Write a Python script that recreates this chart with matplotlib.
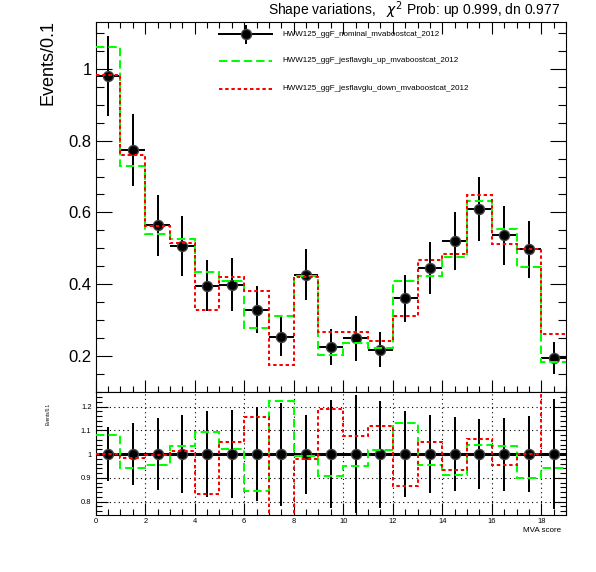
import matplotlib
matplotlib.use("Agg")
import matplotlib.pyplot as plt
from matplotlib.ticker import MultipleLocator
import numpy as np

plt.rcParams['font.family'] = ['Liberation Sans', 'DejaVu Sans']

edges = np.arange(0, 20, 1)
centers = edges[:-1] + 0.5

nominal = [0.980, 0.774, 0.564, 0.507, 0.396, 0.399, 0.329, 0.254, 0.427, 0.225,
           0.249, 0.217, 0.361, 0.445, 0.520, 0.609, 0.536, 0.497, 0.195]
errors = [0.112, 0.100, 0.085, 0.083, 0.072, 0.074, 0.065, 0.055, 0.071, 0.051,
          0.062, 0.049, 0.065, 0.073, 0.081, 0.089, 0.082, 0.080, 0.045]
up = [1.060, 0.730, 0.539, 0.525, 0.433, 0.408, 0.278, 0.311, 0.424, 0.204,
      0.237, 0.221, 0.408, 0.424, 0.475, 0.632, 0.555, 0.447, 0.184]
down = [0.982, 0.760, 0.562, 0.514, 0.329, 0.419, 0.380, 0.176, 0.419, 0.268,
        0.268, 0.243, 0.312, 0.467, 0.485, 0.649, 0.511, 0.497, 0.261]

label_nom = "HWW125_ggF_nominal_mvaboostcat_2012"
label_up = "HWW125_ggF_jesflavglu_up_mvaboostcat_2012"
label_dn = "HWW125_ggF_jesflavglu_down_mvaboostcat_2012"
title = r"Shape variations,   $\chi^{2}$ Prob: up 0.999, dn 0.977"

nom = np.array(nominal)
err = np.array(errors)
r_up = np.array(up) / nom
r_dn = np.array(down) / nom
r_err = err / nom

W, H = 596, 572
fig = plt.figure(figsize=(W / 100, H / 100), dpi=100)
ax = fig.add_axes([0.1606, 0.3152, 0.7891, 0.6472])
rax = fig.add_axes([0.1606, 0.0997, 0.7891, 0.2155])

green = '#00ff00'
red = '#ff0000'
lw = 1.44
gdash = (0, (4.2, 2.0))
rdot = (0, (1.7, 1.4))

# main panel
ax.errorbar(centers, nom, yerr=err, xerr=0.5, fmt='o', color='black',
            ms=7.2, mec='0.25', elinewidth=lw, capsize=0, zorder=3)
ax.stairs(up, edges, baseline=None, color=green, lw=lw, linestyle=gdash, zorder=4)
ax.stairs(down, edges, baseline=None, color=red, lw=lw, linestyle=rdot, zorder=5)

ax.set_xlim(0, 19)
ax.set_ylim(0.1005, 1.132)
ax.yaxis.set_major_locator(MultipleLocator(0.2))
ax.yaxis.set_minor_locator(MultipleLocator(0.05))
ax.xaxis.set_major_locator(MultipleLocator(2))
ax.xaxis.set_minor_locator(MultipleLocator(0.5))
ax.yaxis.set_major_formatter(plt.FuncFormatter(lambda v, p: f"{v:g}"))
ax.tick_params(axis='y', which='major', direction='in', length=11.5, width=0.8,
               labelsize=12, pad=3, left=True, right=True)
ax.tick_params(axis='y', which='minor', direction='in', length=5.8, width=0.8,
               left=True, right=True)
ax.tick_params(axis='x', which='major', direction='in', length=8.6, width=0.8,
               top=True, bottom=True, labelbottom=False)
ax.tick_params(axis='x', which='minor', direction='in', length=4.3, width=0.8,
               top=True, bottom=True)

# legend, drawn by hand in figure pixels (ROOT style)
def fx(px):
    return px / W

def fy(py):
    return 1 - py / H

leg_rows = [34, 60.7, 89]
leg_x0, leg_x1, leg_xm, leg_tx = 219, 272, 245.5, 282.7
styles = [dict(color='black', lw=lw),
          dict(color=green, lw=lw, linestyle=gdash),
          dict(color=red, lw=lw, linestyle=rdot)]
for row, st, lab in zip(leg_rows, styles, [label_nom, label_up, label_dn]):
    fig.add_artist(plt.Line2D([fx(leg_x0), fx(leg_x1)], [fy(row), fy(row)], **st))
    fig.text(fx(leg_tx), fy(row), lab, ha='left', va='center', fontsize=5.76)
fig.add_artist(plt.Line2D([fx(leg_xm), fx(leg_xm)], [fy(leg_rows[0] - 8.5), fy(leg_rows[0] + 8.5)],
                          color='black', lw=lw))
fig.add_artist(plt.Line2D([fx(leg_xm)], [fy(leg_rows[0])], marker='o', color='black',
                          ms=7.2, mec='0.25', linestyle='none'))

# ratio panel
rax.grid(True, which='major', color='black', linestyle=(0, (1, 3)), lw=0.8)
rax.axhline(1.0, color='black', lw=2.2, zorder=3)
rax.errorbar(centers, np.ones(len(centers)), yerr=r_err, xerr=0.5, fmt='o',
             color='black', ms=7.2, mec='0.25', elinewidth=lw, capsize=0, zorder=4)
rax.stairs(r_up, edges, baseline=None, color=green, lw=lw, linestyle=gdash, zorder=5)
rax.stairs(r_dn, edges, baseline=None, color=red, lw=lw, linestyle=rdot, zorder=6)

rax.set_xlim(0, 19)
rax.set_ylim(0.744, 1.263)
rax.yaxis.set_major_locator(MultipleLocator(0.1))
rax.yaxis.set_minor_locator(MultipleLocator(0.02))
rax.xaxis.set_major_locator(MultipleLocator(2))
rax.xaxis.set_minor_locator(MultipleLocator(0.5))
rax.yaxis.set_major_formatter(plt.FuncFormatter(lambda v, p: f"{v:g}"))
rax.tick_params(axis='y', which='major', direction='in', length=8.6, width=0.8,
                labelsize=5.4, pad=3, left=True, right=True)
rax.tick_params(axis='y', which='minor', direction='in', length=4.3, width=0.8,
                left=True, right=True)
rax.tick_params(axis='x', which='major', direction='in', length=8.6, width=0.8,
                labelsize=5.4, pad=2, top=False, bottom=True)
rax.tick_params(axis='x', which='minor', direction='in', length=4.3, width=0.8,
                top=False, bottom=True)

# texts
fig.text(fx(560), fy(15), title, ha='right', va='baseline', fontsize=10)
fig.text(fx(47.5), fy(20), "Events/0.1", rotation=90, ha='center', va='top',
         fontsize=13)
fig.text(fx(48), fy(403), "Events/0.1", rotation=90, ha='center', va='top',
         fontsize=3.3)
fig.text(fx(561), fy(531), "MVA score", ha='right', va='center', fontsize=5.76)

fig.savefig("out.png", dpi=100)
